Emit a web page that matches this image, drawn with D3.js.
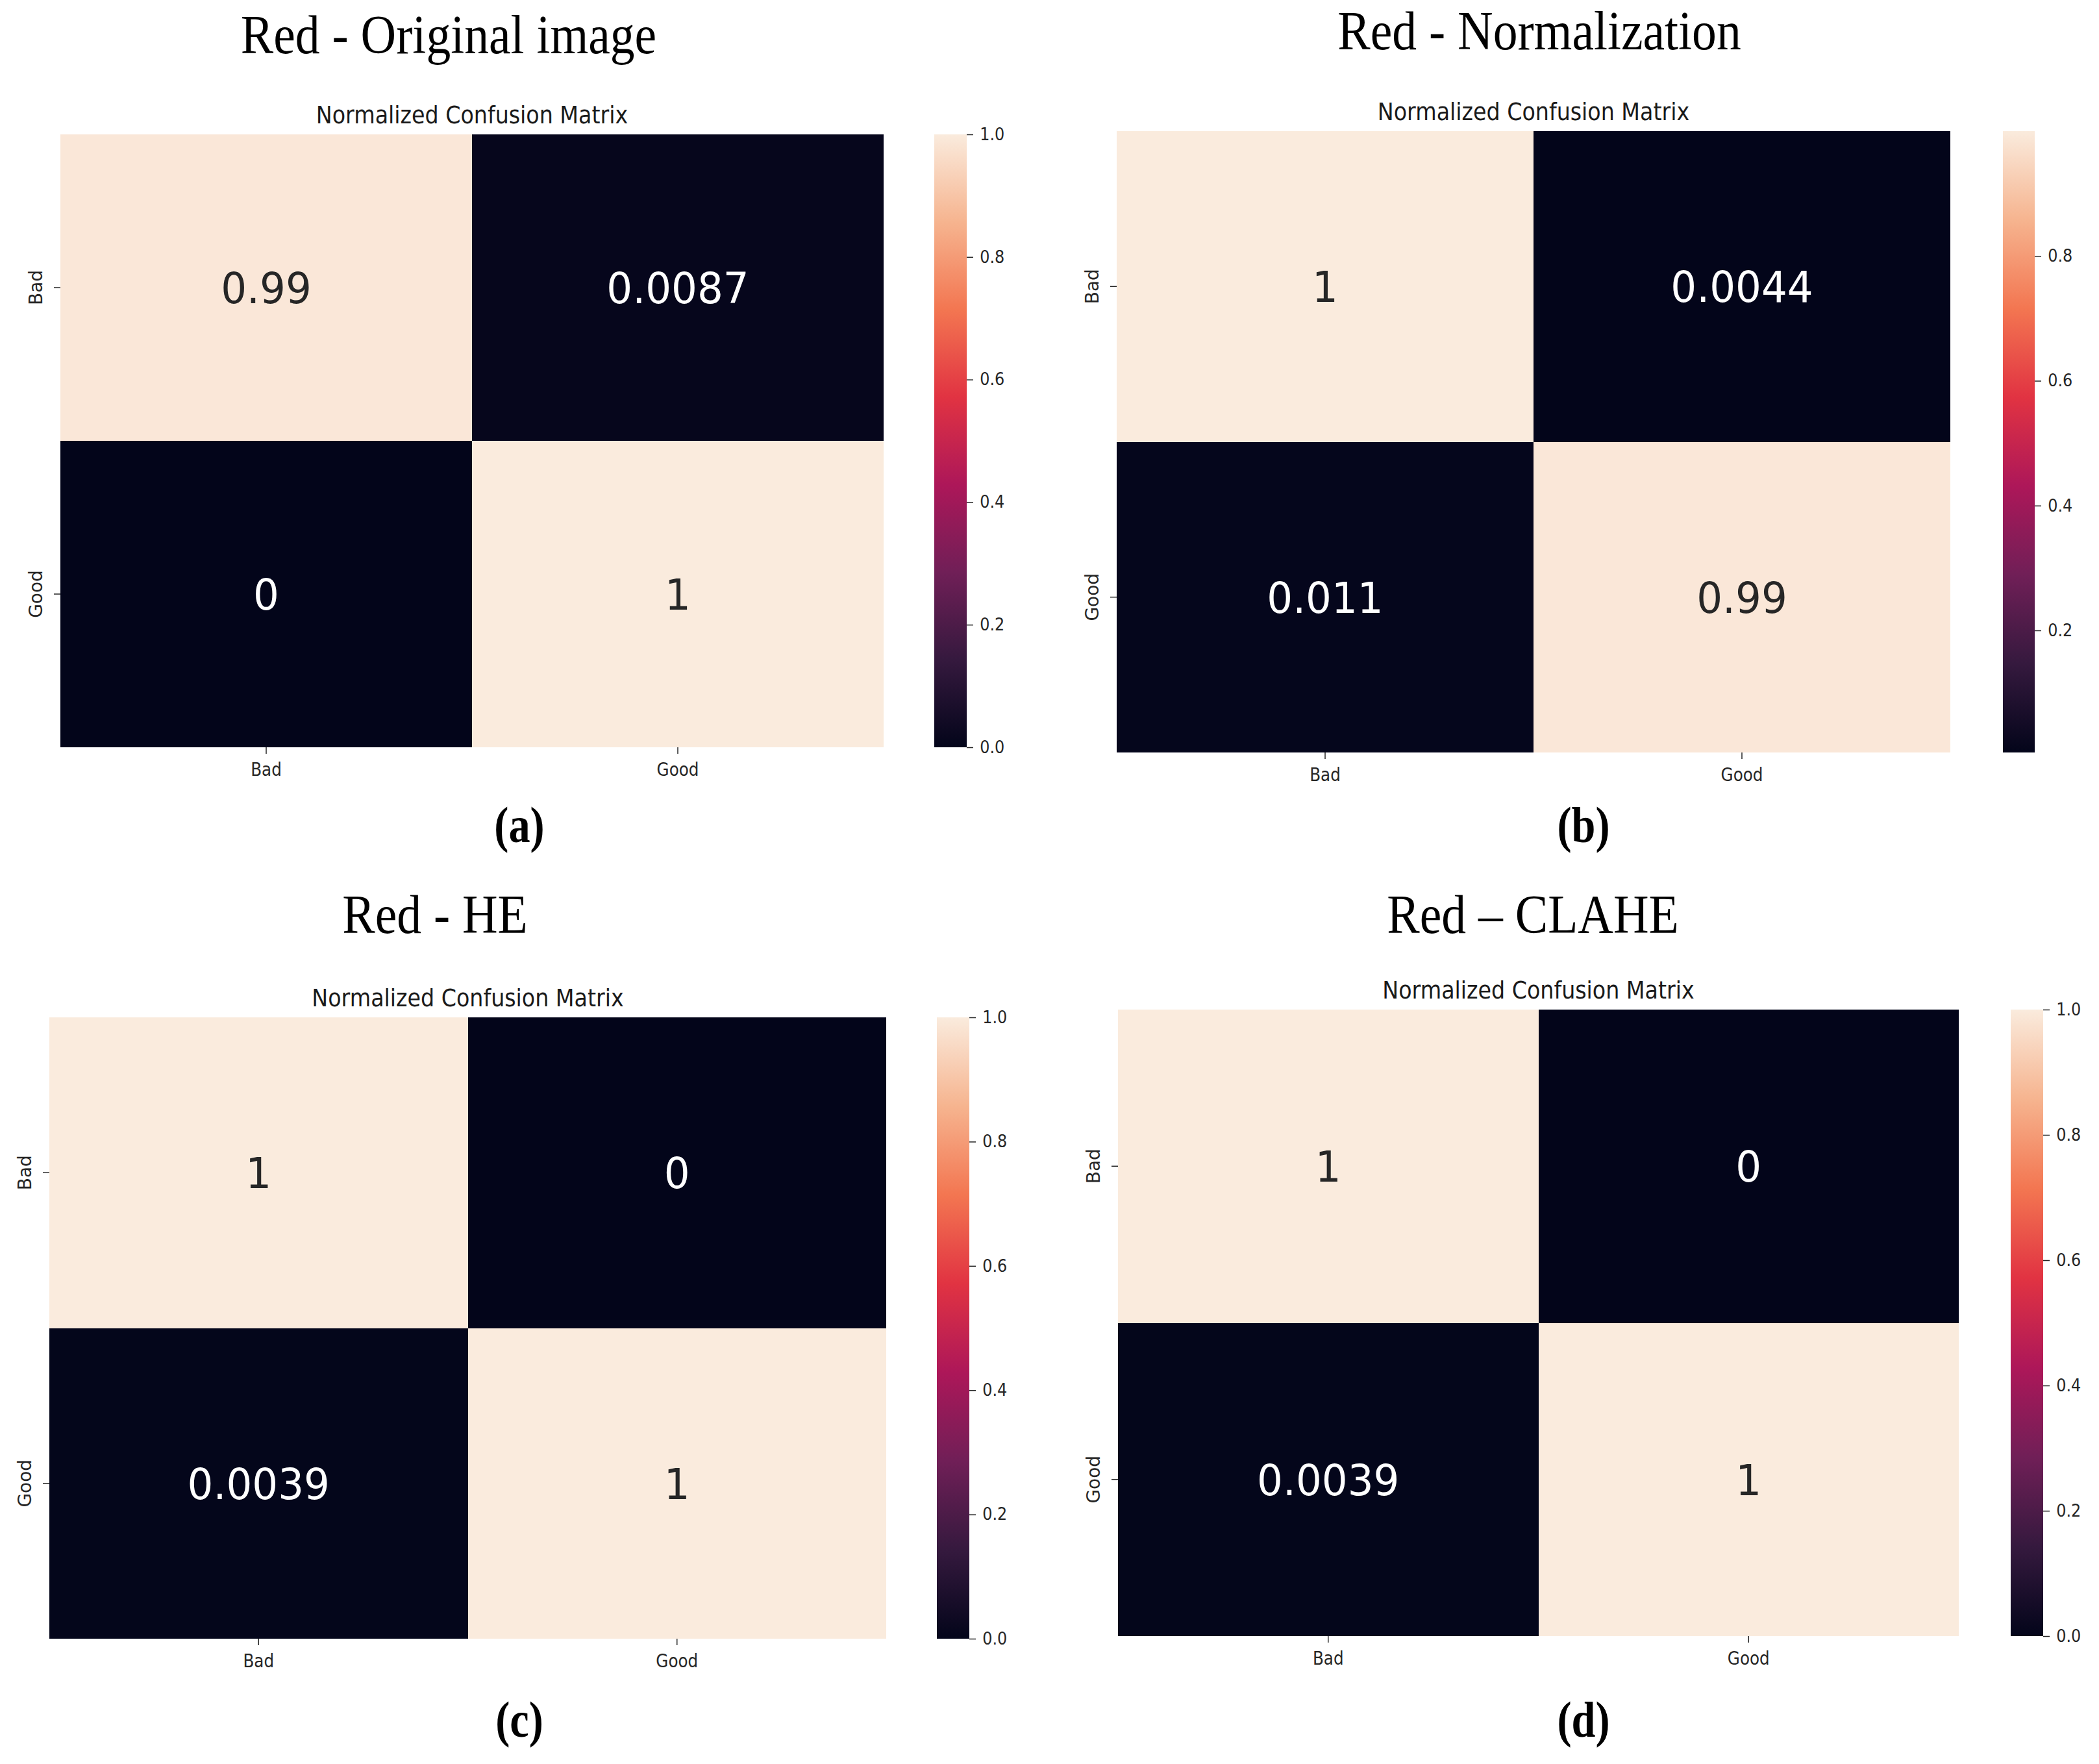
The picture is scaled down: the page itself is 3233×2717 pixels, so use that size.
<!DOCTYPE html>
<html lang="en">
<head>
<meta charset="UTF-8">
<title>Red channel - normalized confusion matrices</title>
<script src="https://cdn.jsdelivr.net/npm/d3@7"></script>
<style>
  body { margin: 0; background: #fff; }
  svg { display: block; }
  .ax text { font-family: 'DejaVu Sans', sans-serif; font-size: 28px; fill: #262626; }
  .ax line { stroke: #262626; stroke-width: 1.5; }
  .cb text { font-size: 26px; }
</style>
</head>
<body>
<script>
// class labels (rows = true, cols = predicted)
const classes = ['Bad', 'Good']

const panelTitles = ['Red - Original image', 'Red - Normalization', 'Red - HE', 'Red \u2013 CLAHE']
const panelTags = ['(a)', '(b)', '(c)', '(d)']
const subTitle = 'Normalized Confusion Matrix'

// cell values
const originalValues = [[0.99, 0.0087], [0, 1]]
const normalizationValues = [[1, 0.0044], [0.011, 0.99]]
const heValues = [[1, 0], [0.0039, 1]]
const claheValues = [[1, 0], [0.0039, 1]]

// colour bar ranges and ticks
const colorbarDomains = [[0, 1], [0.0044, 1], [0, 1], [0, 1]]
const colorbarTicks = [
  [0, 0.2, 0.4, 0.6, 0.8, 1.0],
  [0.2, 0.4, 0.6, 0.8],
  [0, 0.2, 0.4, 0.6, 0.8, 1.0],
  [0, 0.2, 0.4, 0.6, 0.8, 1.0]
]

// seaborn "rocket"
const rocketStops = ['#03051a', '#35193e', '#701f57', '#ad1759', '#e13342', '#f37651', '#f6b48f', '#faebdd']

const width = 3233
const height = 2717

const panels = [
  {hx0: 93, hx1: 1361, hy0: 207, hy1: 1151, cx0: 1439, cx1: 1489, titleX: 691, titleY: 82, tagX: 800, tagY: 1297},
  {hx0: 1720, hx1: 3004, hy0: 202, hy1: 1159, cx0: 3085, cx1: 3134, titleX: 2371, titleY: 76, tagX: 2439, tagY: 1297},
  {hx0: 76, hx1: 1365, hy0: 1567, hy1: 2524, cx0: 1443, cx1: 1493, titleX: 670, titleY: 1437, tagX: 800, tagY: 2675},
  {hx0: 1722, hx1: 3017, hy0: 1555, hy1: 2520, cx0: 3097, cx1: 3147, titleX: 2361, titleY: 1437, tagX: 2439, tagY: 2675}
]

const rocket = d3.scaleLinear()
  .domain(d3.range(rocketStops.length).map(i => i / (rocketStops.length - 1)))
  .range(rocketStops)
  .interpolate(d3.interpolateRgb)
  .clamp(true)

const svg = d3.select('body').append('svg')
  .attr('width', width)
  .attr('height', height)

svg.append('rect').attr('width', width).attr('height', height).attr('fill', '#fff')

const grad = svg.append('defs').append('linearGradient')
  .attr('id', 'rocket')
  .attr('x1', 0).attr('y1', 1).attr('x2', 0).attr('y2', 0)

grad.selectAll('stop')
  .data(rocketStops)
  .enter()
  .append('stop')
  .attr('offset', (d, i) => i / (rocketStops.length - 1))
  .attr('stop-color', d => d)

function textColour(c) {
  // same rule seaborn uses for annotation colour
  const rgb = d3.rgb(c)
  const lin = [rgb.r, rgb.g, rgb.b].map(v => {
    v = v / 255
    return v <= 0.03928 ? v / 12.92 : Math.pow((v + 0.055) / 1.055, 2.4)
  })
  const lum = 0.2126 * lin[0] + 0.7152 * lin[1] + 0.0722 * lin[2]
  return lum > 0.408 ? '#262626' : '#ffffff'
}

function drawPanel(values, domain, ticks, title, tag, L) {
  const g = svg.append('g')

  const x = d3.scaleBand().domain(classes).range([L.hx0, L.hx1])
  const y = d3.scaleBand().domain(classes).range([L.hy0, L.hy1])
  const norm = d3.scaleLinear().domain(domain).range([0, 1]).clamp(true)
  const cb = d3.scaleLinear().domain(domain).range([L.hy1, L.hy0])

  const cells = classes.flatMap((r, i) => classes.map((c, j) => ({row: r, col: c, v: values[i][j]})))

  g.selectAll('rect.cell')
    .data(cells)
    .enter()
    .append('rect')
    .attr('class', 'cell')
    .attr('x', d => x(d.col))
    .attr('y', d => y(d.row))
    .attr('width', x.bandwidth())
    .attr('height', y.bandwidth())
    .attr('shape-rendering', 'crispEdges')
    .attr('fill', d => rocket(norm(d.v)))

  g.selectAll('text.val')
    .data(cells)
    .enter()
    .append('text')
    .attr('class', 'val')
    .attr('transform', d => `translate(${x(d.col) + x.bandwidth() / 2},${y(d.row) + y.bandwidth() / 2}) scale(0.95,1)`)
    .attr('text-anchor', 'middle')
    .attr('dy', '0.36em')
    .attr('font-family', 'DejaVu Sans, sans-serif')
    .attr('font-size', 66)
    .attr('fill', d => textColour(rocket(norm(d.v))))
    .text(d => d3.format('.2~g')(d.v))

  // x axis
  const xa = g.append('g')
    .attr('class', 'ax')
    .attr('transform', `translate(0,${L.hy1})`)
    .call(d3.axisBottom(x).tickSize(10))
  xa.select('.domain').remove()
  xa.selectAll('text')
    .attr('y', 44)
    .attr('dy', null)
    .attr('transform', 'scale(0.88,1)')

  // y axis, rotated labels
  const ya = g.append('g')
    .attr('class', 'ax')
    .attr('transform', `translate(${L.hx0},0)`)
    .call(d3.axisLeft(y).tickSize(10))
  ya.select('.domain').remove()
  ya.selectAll('text')
    .attr('x', 0)
    .attr('text-anchor', 'middle')
    .attr('dy', '0.35em')
    .attr('transform', 'translate(-38,0) rotate(-90)')

  // colour bar
  g.append('rect')
    .attr('x', L.cx0)
    .attr('y', L.hy0)
    .attr('width', L.cx1 - L.cx0)
    .attr('height', L.hy1 - L.hy0)
    .attr('fill', 'url(#rocket)')

  const ca = g.append('g')
    .attr('class', 'ax cb')
    .attr('transform', `translate(${L.cx1},0)`)
    .call(d3.axisRight(cb).tickValues(ticks).tickSize(10).tickPadding(12).tickFormat(d3.format('.1f')))
  ca.select('.domain').remove()
  ca.selectAll('text').attr('transform', 'scale(0.92,1)')

  // sub title
  g.append('text')
    .attr('transform', `translate(${(L.hx0 + L.hx1) / 2},${L.hy0 - 17}) scale(0.9,1)`)
    .attr('text-anchor', 'middle')
    .attr('font-family', 'DejaVu Sans, sans-serif')
    .attr('font-size', 37)
    .attr('fill', '#1a1a1a')
    .text(subTitle)

  // panel title
  g.append('text')
    .attr('transform', `translate(${L.titleX},${L.titleY}) scale(0.9,1)`)
    .attr('text-anchor', 'middle')
    .attr('font-family', 'Liberation Serif, serif')
    .attr('font-size', 84)
    .attr('fill', '#000')
    .text(title)

  // panel tag
  g.append('text')
    .attr('transform', `translate(${L.tagX},${L.tagY}) scale(0.85,1)`)
    .attr('text-anchor', 'middle')
    .attr('font-family', 'Liberation Serif, serif')
    .attr('font-weight', 'bold')
    .attr('font-size', 78)
    .attr('fill', '#000')
    .text(tag)
}

const allValues = [originalValues, normalizationValues, heValues, claheValues]

panels.forEach((L, i) => {
  drawPanel(allValues[i], colorbarDomains[i], colorbarTicks[i], panelTitles[i], panelTags[i], L)
})
</script>
</body>
</html>
